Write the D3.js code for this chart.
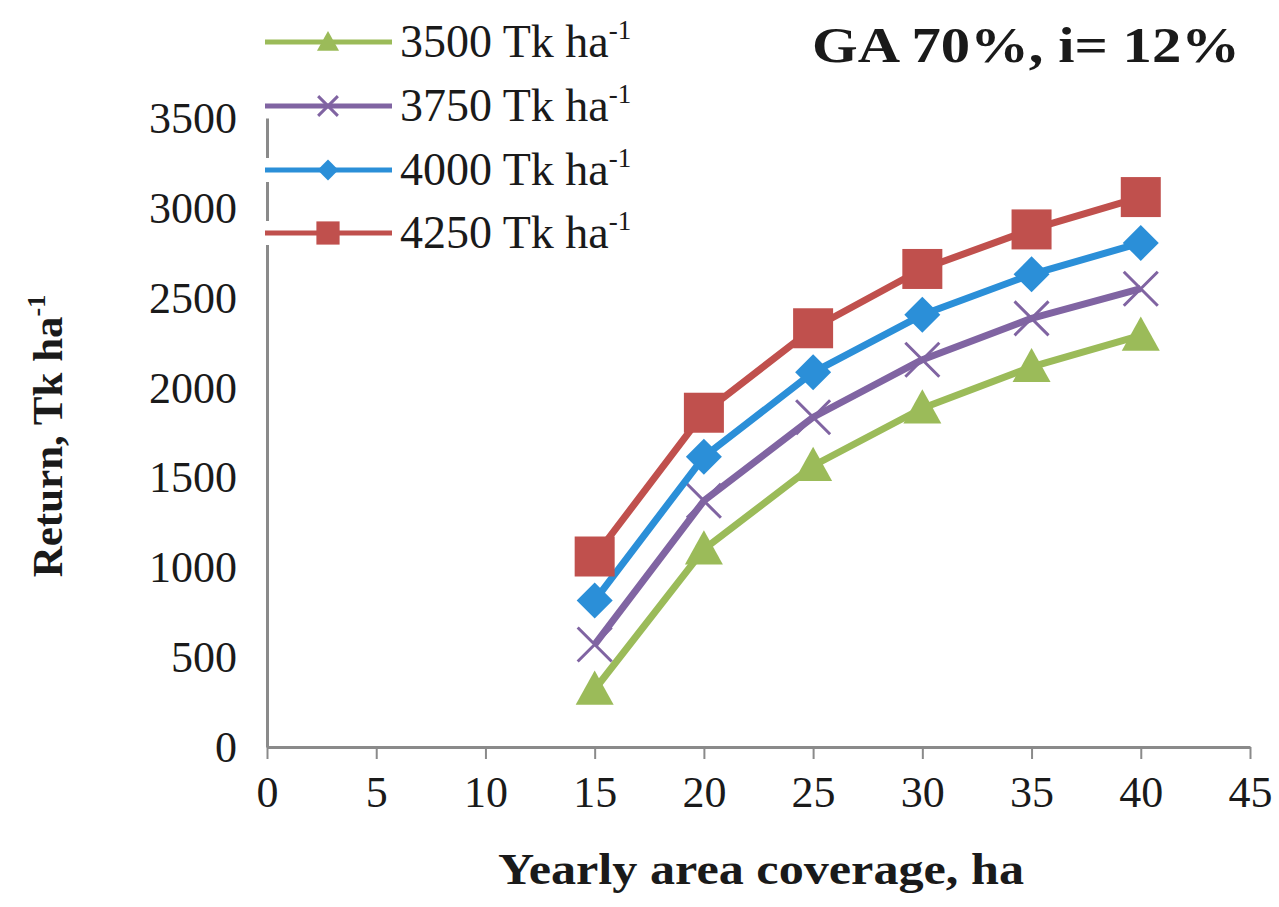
<!DOCTYPE html>
<html>
<head>
<meta charset="utf-8">
<script src="https://cdn.jsdelivr.net/npm/d3@7"></script>
<style>
  body { margin: 0; background: #fff; }
  svg { display: block; }
  text { font-family: 'Liberation Serif', 'DejaVu Serif', serif; fill: #1a1a1a; }
</style>
</head>
<body>
<script>
const W = 1279;
const H = 907;

// data
const coverage = [15, 20, 25, 30, 35, 40];
const ret3500 = [320, 1100, 1565, 1885, 2115, 2290];
const ret3750 = [570, 1370, 1835, 2155, 2385, 2550];
const ret4000 = [815, 1615, 2085, 2405, 2630, 2805];
const ret4250 = [1060, 1860, 2330, 2660, 2880, 3060];
const seriesNames = ['3500', '3750', '4000', '4250'];
const xTicks = [0, 5, 10, 15, 20, 25, 30, 35, 40, 45];
const yTicks = [0, 500, 1000, 1500, 2000, 2500, 3000, 3500];

const SERIES = [
  { name: seriesNames[0], values: ret3500, color: '#9BBB59', marker: 'triangle' },
  { name: seriesNames[1], values: ret3750, color: '#8064A2', marker: 'cross' },
  { name: seriesNames[2], values: ret4000, color: '#2B8FD8', marker: 'diamond' },
  { name: seriesNames[3], values: ret4250, color: '#C0504D', marker: 'square' },
];

const svg = d3.select('body').append('svg').attr('width', W).attr('height', H);

const x = d3.scaleLinear().domain([0, 45]).range([267, 1250]);
const y = d3.scaleLinear().domain([0, 3500]).range([747, 118]);

// axes
const xAxis = svg.append('g')
  .attr('transform', `translate(0, ${y(0)})`)
  .call(d3.axisBottom(x).tickValues(xTicks).tickFormat(d3.format('d'))
    .tickSize(12).tickSizeOuter(0).tickPadding(22));
const yAxis = svg.append('g')
  .attr('transform', `translate(${x(0)}, 0)`)
  .call(d3.axisLeft(y).tickValues(yTicks).tickFormat(d3.format('d'))
    .tickSize(0).tickPadding(30));

[xAxis, yAxis].forEach((g) => {
  g.select('.domain').attr('stroke', '#8a8a8a').attr('stroke-width', 3);
  g.selectAll('.tick line').attr('stroke', '#8a8a8a').attr('stroke-width', 2);
  g.selectAll('.tick text')
    .attr('fill', '#1a1a1a')
    .attr('font-size', 44)
    .attr('font-family', "'Liberation Serif', serif");
});
yAxis.selectAll('.tick text').attr('dy', '0.33em');
xAxis.selectAll('.tick text').attr('dy', '0.6em');

// axis titles
svg.append('text')
  .attr('x', 761).attr('y', 884)
  .attr('text-anchor', 'middle')
  .attr('font-size', 44)
  .attr('font-weight', 'bold')
  .attr('textLength', 526)
  .attr('lengthAdjust', 'spacingAndGlyphs')
  .text('Yearly area coverage, ha');

const yTitle = svg.append('text')
  .attr('transform', 'translate(62, 436) rotate(-90)')
  .attr('text-anchor', 'middle')
  .attr('font-size', 43)
  .attr('font-weight', 'bold');
yTitle.append('tspan').text('Return, Tk ha');
yTitle.append('tspan').attr('font-size', 26).attr('dy', -17).text('-1');

// chart title
svg.append('text')
  .attr('x', 812).attr('y', 62)
  .attr('font-size', 50)
  .attr('font-weight', 'bold')
  .attr('textLength', 428)
  .attr('lengthAdjust', 'spacingAndGlyphs')
  .text('GA 70%, i= 12%');

// markers
const drawMarker = (g, type, color, size) => {
  const s = size / 2;
  if (type === 'square') {
    g.append('rect')
      .attr('x', -s).attr('y', -s)
      .attr('width', size).attr('height', size)
      .attr('fill', color);
  } else if (type === 'diamond') {
    g.append('path')
      .attr('d', `M0,${-s}L${s},0L0,${s}L${-s},0Z`)
      .attr('fill', color);
  } else if (type === 'triangle') {
    g.append('path')
      .attr('d', `M0,${-s}L${s},${s * 0.8}L${-s},${s * 0.8}Z`)
      .attr('fill', color);
  } else if (type === 'cross') {
    g.append('path')
      .attr('d', `M${-s},${-s}L${s},${s}M${-s},${s}L${s},${-s}`)
      .attr('stroke', color)
      .attr('stroke-width', 3)
      .attr('fill', 'none');
  }
};

const markerSize = { square: 40, diamond: 36, triangle: 38, cross: 34 };

const line = d3.line()
  .x((d, i) => x(coverage[i]))
  .y((d) => y(d));

SERIES.forEach((s) => {
  svg.append('path')
    .datum(s.values)
    .attr('d', line)
    .attr('fill', 'none')
    .attr('stroke', s.color)
    .attr('stroke-width', 7)
    .attr('stroke-linejoin', 'round');

  svg.append('g')
    .selectAll('g')
    .data(s.values)
    .enter()
    .append('g')
    .attr('transform', (d, i) => `translate(${x(coverage[i])}, ${y(d)})`)
    .each(function () {
      drawMarker(d3.select(this), s.marker, s.color, markerSize[s.marker]);
    });
});

// legend
const legendY = [42, 106, 170, 233];
const legend = svg.append('g')
  .selectAll('g')
  .data(SERIES)
  .enter()
  .append('g')
  .attr('transform', (d, i) => `translate(0, ${legendY[i]})`);

legend.append('rect')
  .attr('x', 258).attr('y', -12).attr('width', 140).attr('height', 24)
  .attr('fill', '#fff');
legend.append('line')
  .attr('x1', 265).attr('x2', 392)
  .attr('stroke', (d) => d.color)
  .attr('stroke-width', 5);
legend.append('g')
  .attr('transform', 'translate(328, 0)')
  .each(function (d) {
    drawMarker(d3.select(this), d.marker, d.color, markerSize[d.marker] * 0.58);
  });
const legendText = legend.append('text')
  .attr('x', 400).attr('y', 15)
  .attr('font-size', 46);
legendText.append('tspan').text((d) => `${d.name} Tk ha`);
legendText.append('tspan').attr('font-size', 27).attr('dy', -18).text('-1');
</script>
</body>
</html>
